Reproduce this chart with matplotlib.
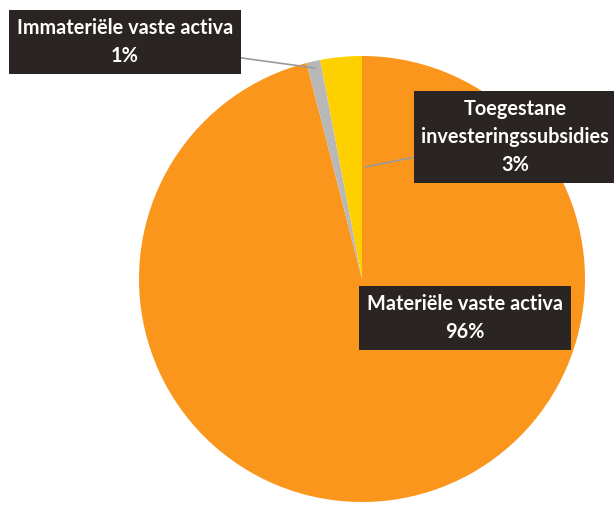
import matplotlib.pyplot as plt

labels = ['Materiële vaste activa', 'Immateriële vaste activa', 'Toegestane\ninvesteringssubsidies']
shares = [96, 1, 3]
colors = ['#FA961C', '#B8B8B8', '#FFD000']

plt.rcParams['font.family'] = ['Lato', 'DejaVu Sans']

fig = plt.figure(figsize=(6.14, 5.13), dpi=100)
ax = fig.add_axes([0, 0, 1, 1])

ax.pie(shares, colors=colors, startangle=90, counterclock=False,
       center=(362, 234), radius=223, frame=True,
       wedgeprops={'linewidth': 0})
ax.set_xlim(0, 614)
ax.set_ylim(0, 513)
ax.set_aspect('equal')
ax.axis('off')

box = dict(boxstyle='square,pad=0.38', facecolor='#2A2522', edgecolor='none')
txt = dict(color='white', fontsize=14.3, fontweight='bold', ha='center', va='center',
           linespacing=1.5, bbox=box)
line = dict(arrowstyle='-', color='#9A9A9A', lw=1.2, shrinkA=0, shrinkB=0)

ax.annotate(f'{labels[1]}\n{shares[1]}%', xy=(315, 445), xytext=(125, 471),
            arrowprops=line, **txt)
ax.annotate(f'{labels[2]}\n{shares[2]}%', xy=(365, 346), xytext=(515, 376),
            arrowprops=line, **txt)
ax.text(465, 195, f'{labels[0]}\n{shares[0]}%', **txt)

fig.savefig('out.png', dpi=100)
